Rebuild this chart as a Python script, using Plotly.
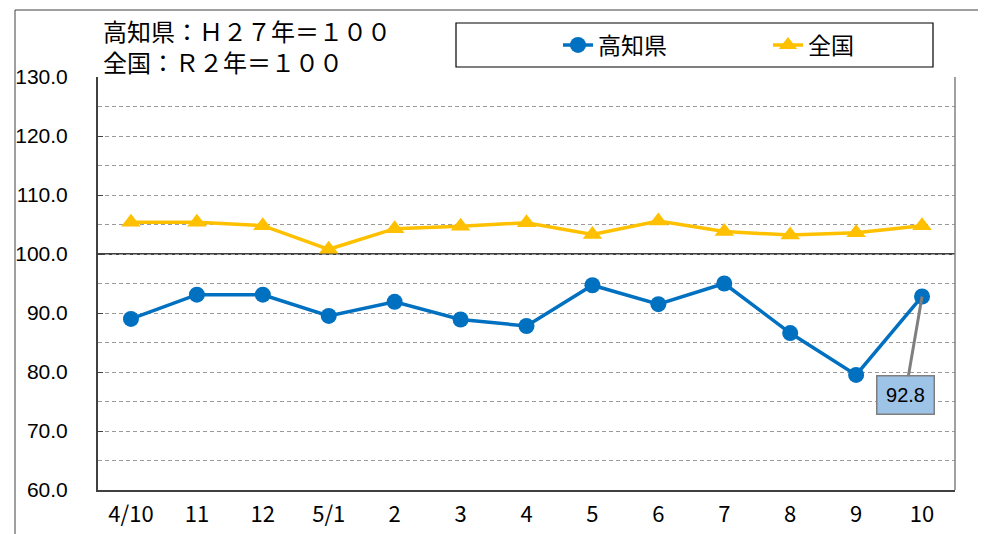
import plotly.graph_objects as go

categories = ["4/10", "11", "12", "5/1", "2", "3", "4", "5", "6", "7", "8", "9", "10"]
kochi = [89.0, 93.1, 93.1, 89.5, 91.9, 88.9, 87.8, 94.7, 91.5, 95.0, 86.6, 79.5, 92.8]
national = [105.4, 105.4, 104.8, 100.8, 104.3, 104.7, 105.3, 103.3, 105.6, 103.8, 103.2, 103.6, 104.8]
y_ticks = [60, 70, 80, 90, 100, 110, 120, 130]
y_ticktext = ["60.0", "70.0", "80.0", "90.0", "100.0", "110.0", "120.0", "130.0"]

BLUE = "#0070C0"
GOLD = "#FFC000"
JP = "Noto Sans CJK JP"
W, H = 986, 534
OFF = 8  # page body margin

# desired plot area in page pixels
PL, PR, PT, PB = 98, 955, 77, 490
ml, mt = PL - OFF, PT - OFF
mr = W - (PR - OFF)
mb = H - (PB - OFF)
pw, ph = PR - PL, PB - PT


def px(x):
    return (x - PL) / pw


def py(y):
    return (PB - y) / ph


fig = go.Figure()
fig.add_trace(go.Scatter(
    x=categories, y=kochi, name="高知県", mode="lines+markers",
    line=dict(color=BLUE, width=3.5), marker=dict(symbol="circle", size=16, color=BLUE),
))
fig.add_trace(go.Scatter(
    x=categories, y=national, name="全国", mode="lines+markers",
    line=dict(color=GOLD, width=3.5), marker=dict(symbol="triangle-up", size=17, color=GOLD),
))

fig.update_layout(
    width=W, height=H,
    margin=dict(l=ml, r=mr, t=mt, b=mb, autoexpand=False),
    paper_bgcolor="white", plot_bgcolor="white",
    showlegend=True,
    legend=dict(
        orientation="h", xref="container", yref="container",
        x=(558 - OFF) / W, y=1 - (45 - OFF) / H, xanchor="left", yanchor="middle",
        borderwidth=0, bgcolor="rgba(0,0,0,0)",
        font=dict(family=JP, size=23, color="#000000"),
        entrywidth=165, entrywidthmode="pixels",
        itemsizing="trace",
    ),
    xaxis=dict(
        type="category", categoryorder="array", categoryarray=categories,
        range=[-0.5, 12.5], showgrid=False,
        showline=True, linecolor="#404040", linewidth=2,
        ticks="", tickfont=dict(family=JP, size=22, color="#000000"),
        ticklabelstandoff=4,
    ),
    yaxis=dict(
        range=[60, 130], tickvals=y_ticks, ticktext=y_ticktext,
        showgrid=True, gridcolor="#9a9a9a", griddash="4px,3px", gridwidth=1,
        minor=dict(dtick=5, showgrid=True, gridcolor="#9a9a9a", griddash="4px,3px", gridwidth=1),
        showline=True, linecolor="#404040", linewidth=2,
        ticks="inside", ticklen=5, tickcolor="#404040",
        tickfont=dict(family="Liberation Sans", size=21, color="#000000"),
        ticklabelstandoff=24,
        zeroline=False,
    ),
)

# solid reference line at 100 and right border of plot area
fig.add_shape(type="line", xref="paper", yref="y", x0=0, x1=1, y0=100, y1=100,
              line=dict(color="#000000", width=1.5), layer="below")
fig.add_shape(type="line", xref="paper", yref="paper", x0=1, x1=1, y0=0, y1=1,
              line=dict(color="#808080", width=1.5))
# outer chart frame (top and left edges visible)
fig.add_shape(type="line", xref="paper", yref="paper", x0=px(15), x1=px(1000), y0=py(10), y1=py(10),
              line=dict(color="#404040", width=1))
fig.add_shape(type="line", xref="paper", yref="paper", x0=px(15), x1=px(15), y0=py(560), y1=py(10),
              line=dict(color="#404040", width=1))
# legend frame
fig.add_shape(type="rect", xref="paper", yref="paper",
              x0=px(456), x1=px(933), y0=py(67), y1=py(23),
              line=dict(color="#000000", width=1.2), fillcolor="white", layer="below")

fig.add_annotation(xref="paper", yref="paper", x=px(101), y=py(46),
                   xanchor="left", yanchor="middle", align="left",
                   text="高知県：Ｈ２７年＝１００<br>全国：Ｒ２年＝１００", showarrow=False,
                   font=dict(family=JP, size=24, color="#000000"))

# callout for last Kochi value
fig.add_annotation(x=len(categories) - 1, y=kochi[-1], text=f"{kochi[-1]:.1f}",
                   showarrow=True, arrowhead=0, arrowwidth=3, arrowcolor="#7F7F7F",
                   ax=-17, ay=99, bgcolor="#9DC3E6", bordercolor="#7F7F7F", borderwidth=1.5,
                   borderpad=7, width=42, height=23,
                   font=dict(family="Liberation Sans", size=20, color="#000000"))

fig.write_html("out.html")
